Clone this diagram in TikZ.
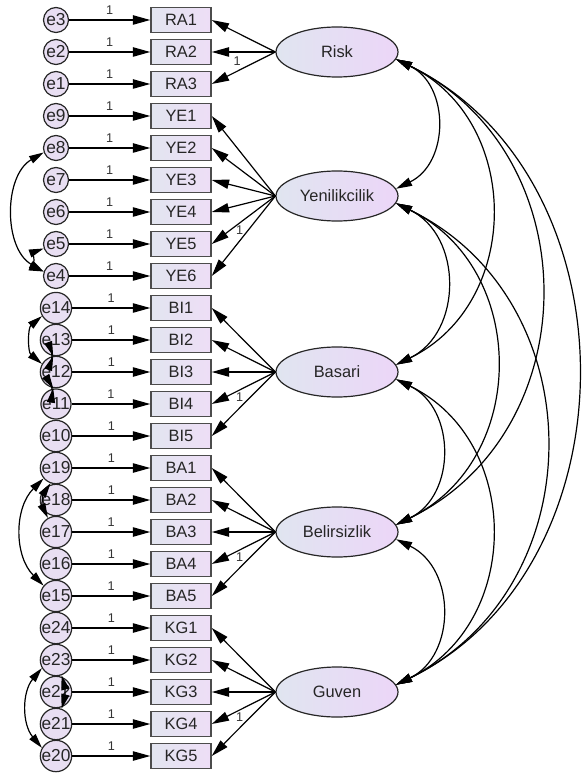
\documentclass[tikz,border=0pt]{standalone}
\usepackage{fontspec}
\setmainfont{Liberation Sans}
\usetikzlibrary{shapes.geometric,arrows.meta}

\definecolor{errfill}{RGB}{232,222,242}
\definecolor{boxleft}{RGB}{226,229,240}
\definecolor{boxright}{RGB}{238,222,246}
\definecolor{latleft}{RGB}{224,229,240}
\definecolor{latright}{RGB}{236,214,248}
\newcommand\labfont{\fontsize{12.3}{14}\selectfont\color{black!85}}
\newcommand\errfont{\fontsize{13}{15}\selectfont\color{black!85}}
\newcommand\onefont{\fontsize{9.5}{11}\selectfont\color{black!80}}

\tikzset{every picture/.style={line width=0.9pt},
  err/.style={circle, draw=black!85, fill=errfill, minimum size=18.75pt, inner sep=0pt, font=\errfont},
  obs/.style={rectangle, draw=black!70, line width=1.1pt, left color=boxleft, right color=boxright, minimum width=45pt, minimum height=18.75pt, inner sep=0pt, font=\labfont},
  lat/.style={ellipse, draw=black!85, left color=latleft, right color=latright, minimum width=91.5pt, minimum height=37.5pt, inner sep=0pt, font=\labfont},
  arr/.style={-{Triangle[length=13pt,width=7pt]}},
  cov/.style={{Triangle[length=12pt,width=6.5pt]}-{Triangle[length=12pt,width=6.5pt]}, bend right=64, looseness=1.18},
  ecov/.style={{Triangle[length=11pt,width=6pt]}-{Triangle[length=11pt,width=6pt]}},
  one/.style={font=\onefont, inner sep=0pt, above=4pt}
}

\begin{document}
\begin{tikzpicture}[x=0.75pt,y=0.75pt,yscale=-1,xscale=1]
\useasboundingbox (0,0) rectangle (583,773);

% Error Nodes
\node[err] (e3) at (56,20) {e3};
\node[err] (e2) at (56,52) {e2};
\node[err] (e1) at (56,84) {e1};
\node[err] (e9) at (56,116) {e9};
\node[err] (e8) at (56,148) {e8};
\node[err] (e7) at (56,180) {e7};
\node[err] (e6) at (56,212) {e6};
\node[err] (e5) at (56,244) {e5};
\node[err] (e4) at (56,276) {e4};
\node[err] (e14) at (56,308) {e14};
\node[err] (e13) at (56,340) {e13};
\node[err] (e12) at (56,372) {e12};
\node[err] (e11) at (56,404) {e11};
\node[err] (e10) at (56,436) {e10};
\node[err] (e19) at (56,468) {e19};
\node[err] (e18) at (56,500) {e18};
\node[err] (e17) at (56,532) {e17};
\node[err] (e16) at (56,564) {e16};
\node[err] (e15) at (56,596) {e15};
\node[err] (e24) at (56,628) {e24};
\node[err] (e23) at (56,660) {e23};
\node[err] (e22) at (56,692) {e22};
\node[err] (e21) at (56,724) {e21};
\node[err] (e20) at (56,756) {e20};

% Observed Nodes
\node[obs] (RA1) at (181,20) {RA1};
\node[obs] (RA2) at (181,52) {RA2};
\node[obs] (RA3) at (181,84) {RA3};
\node[obs] (YE1) at (181,116) {YE1};
\node[obs] (YE2) at (181,148) {YE2};
\node[obs] (YE3) at (181,180) {YE3};
\node[obs] (YE4) at (181,212) {YE4};
\node[obs] (YE5) at (181,244) {YE5};
\node[obs] (YE6) at (181,276) {YE6};
\node[obs] (BI1) at (181,308) {BI1};
\node[obs] (BI2) at (181,340) {BI2};
\node[obs] (BI3) at (181,372) {BI3};
\node[obs] (BI4) at (181,404) {BI4};
\node[obs] (BI5) at (181,436) {BI5};
\node[obs] (BA1) at (181,468) {BA1};
\node[obs] (BA2) at (181,500) {BA2};
\node[obs] (BA3) at (181,532) {BA3};
\node[obs] (BA4) at (181,564) {BA4};
\node[obs] (BA5) at (181,596) {BA5};
\node[obs] (KG1) at (181,628) {KG1};
\node[obs] (KG2) at (181,660) {KG2};
\node[obs] (KG3) at (181,692) {KG3};
\node[obs] (KG4) at (181,724) {KG4};
\node[obs] (KG5) at (181,756) {KG5};

% Latent Nodes
\node[lat] (risk) at (337,52) {Risk};
\node[lat] (yen) at (337,196) {Yenilikcilik};
\node[lat] (basari) at (337,372) {Basari};
\node[lat] (belirs) at (337,532) {Belirsizlik};
\node[lat] (guven) at (337,692) {Guven};

% Connection
\draw[arr] (e3) -- node[one]{1} (RA1);
\draw[arr] (e2) -- node[one]{1} (RA2);
\draw[arr] (e1) -- node[one]{1} (RA3);
\draw[arr] (e9) -- node[one]{1} (YE1);
\draw[arr] (e8) -- node[one]{1} (YE2);
\draw[arr] (e7) -- node[one]{1} (YE3);
\draw[arr] (e6) -- node[one]{1} (YE4);
\draw[arr] (e5) -- node[one]{1} (YE5);
\draw[arr] (e4) -- node[one]{1} (YE6);
\draw[arr] (e14) -- node[one]{1} (BI1);
\draw[arr] (e13) -- node[one]{1} (BI2);
\draw[arr] (e12) -- node[one]{1} (BI3);
\draw[arr] (e11) -- node[one]{1} (BI4);
\draw[arr] (e10) -- node[one]{1} (BI5);
\draw[arr] (e19) -- node[one]{1} (BA1);
\draw[arr] (e18) -- node[one]{1} (BA2);
\draw[arr] (e17) -- node[one]{1} (BA3);
\draw[arr] (e16) -- node[one]{1} (BA4);
\draw[arr] (e15) -- node[one]{1} (BA5);
\draw[arr] (e24) -- node[one]{1} (KG1);
\draw[arr] (e23) -- node[one]{1} (KG2);
\draw[arr] (e22) -- node[one]{1} (KG3);
\draw[arr] (e21) -- node[one]{1} (KG4);
\draw[arr] (e20) -- node[one]{1} (KG5);

% Connection
\draw[arr] (risk.west) -- (RA1.east);
\draw[arr] (risk.west) -- (RA2.east);
\draw[arr] (risk.west) -- node[one, pos=0.6]{1} (RA3.east);
\draw[arr] (yen.west) -- (YE1.east);
\draw[arr] (yen.west) -- (YE2.east);
\draw[arr] (yen.west) -- (YE3.east);
\draw[arr] (yen.west) -- (YE4.east);
\draw[arr] (yen.west) -- (YE5.east);
\draw[arr] (yen.west) -- node[one, pos=0.56]{1} (YE6.east);
\draw[arr] (basari.west) -- (BI1.east);
\draw[arr] (basari.west) -- (BI2.east);
\draw[arr] (basari.west) -- (BI3.east);
\draw[arr] (basari.west) -- (BI4.east);
\draw[arr] (basari.west) -- node[one, pos=0.56]{1} (BI5.east);
\draw[arr] (belirs.west) -- (BA1.east);
\draw[arr] (belirs.west) -- (BA2.east);
\draw[arr] (belirs.west) -- (BA3.east);
\draw[arr] (belirs.west) -- (BA4.east);
\draw[arr] (belirs.west) -- node[one, pos=0.56]{1} (BA5.east);
\draw[arr] (guven.west) -- (KG1.east);
\draw[arr] (guven.west) -- (KG2.east);
\draw[arr] (guven.west) -- (KG3.east);
\draw[arr] (guven.west) -- (KG4.east);
\draw[arr] (guven.west) -- node[one, pos=0.56]{1} (KG5.east);

% Covariance
\draw[cov] (risk.-7) to (yen.7);
\draw[cov] (risk.-7) to (basari.7);
\draw[cov] (risk.-7) to (belirs.7);
\draw[cov] (risk.-7) to[looseness=1.1] (guven.7);
\draw[cov] (yen.-7) to (basari.7);
\draw[cov] (yen.-7) to (belirs.7);
\draw[cov] (yen.-7) to (guven.7);
\draw[cov] (basari.-7) to (belirs.7);
\draw[cov] (basari.-7) to (guven.7);
\draw[cov] (belirs.-7) to (guven.7);

% Covariance
\draw[ecov] (e8.200) to[bend left=60] (e4.160);
\draw[ecov] (e5.200) to[bend left=70] (e4.160);
\draw[ecov] (e14.210) to[bend left=50] (e12.150);
\draw[ecov] (e13.260) to[bend right=20] (e12.100);
\draw[ecov] (e12.260) to[bend left=20] (e11.100);
\draw[ecov] (e19.220) to[bend left=45] (e15.140);
\draw[ecov] (e19.250) to[bend left=30] (e17.120);
\draw[ecov] (e23.210) to[bend left=40] (e20.150);
\draw[ecov] (e23.290) to[bend right=15] (e21.70);

\end{tikzpicture}
\end{document}
